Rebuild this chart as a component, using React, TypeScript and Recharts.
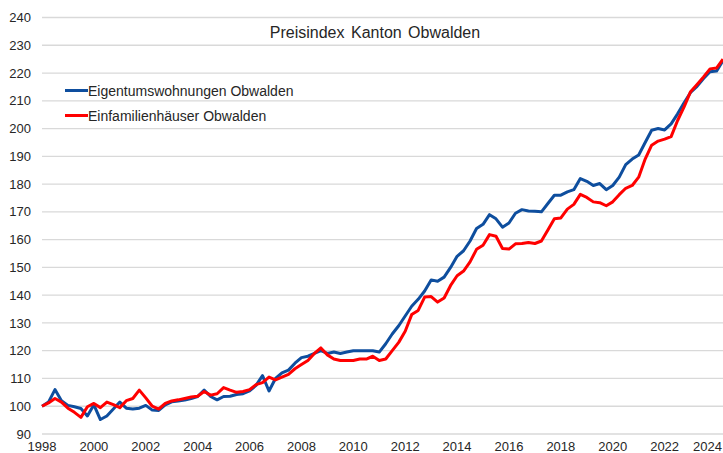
import React from "react";
import { CartesianGrid, Legend, Line, LineChart, XAxis, YAxis } from "recharts";

// Quartalswerte ab 1998 Q1 (Index 1998 Q1 = 100)
const START_YEAR = 1998;

const eigentumswohnungen = [
  100, 101.5, 106, 102,
  100.3, 99.8, 99.2, 96.5,
  100.5, 95.2, 96.5, 99,
  101.5, 99.3, 99, 99.3,
  100.3, 98.6, 98.5, 100.5,
  101.6, 101.9, 102.2, 102.8,
  103.5, 105.8, 103.5, 102.3,
  103.5, 103.6, 104.2, 104.5,
  105.5, 107.5, 111, 105.5,
  110, 112, 113, 115.5,
  117.5, 118, 119, 120,
  119, 119.5, 119, 119.5,
  120, 120, 120, 120,
  119.5, 122.5, 126, 129,
  132.5, 136, 138.5, 141.5,
  145.5, 145, 146.5, 150,
  154, 156, 159.5, 164,
  165.5, 169, 167.5, 164.5,
  166, 169.5, 170.8, 170.3,
  170.2, 170, 173, 176,
  176, 177.2, 178, 182,
  181, 179.5, 180.2, 178,
  179.5, 182.5, 187, 189,
  190.5, 195, 199.4, 200,
  199.5, 201.7, 205.3, 209.3,
  213, 215.2, 218, 220.5,
  220.7, 224.5,
];

const einfamilienhaeuser = [
  100, 101.2, 102.8, 101.5,
  99.3, 97.8, 96, 99.8,
  101, 99.5, 101.5, 100.6,
  99.5, 102, 102.8, 105.8,
  103, 100, 99, 101,
  101.9, 102.3, 102.8, 103.3,
  103.6, 105.3, 104, 104.5,
  106.7, 105.8, 105, 105.3,
  106, 107.8, 108.5, 110.5,
  109.5, 110.5, 111.5, 113.5,
  115, 116.5, 119, 121,
  118.5, 117, 116.5, 116.5,
  116.5, 117, 117, 118,
  116.5, 117, 120, 123,
  127, 133, 134.5, 139.3,
  139.5, 137.5, 139, 143.5,
  147, 148.7, 152, 156.5,
  158, 161.8, 161.2, 156.8,
  156.6, 158.5, 158.6, 159,
  158.6, 159.5, 163.5, 167.5,
  167.8, 171, 172.7, 176.3,
  175.2, 173.6, 173.3, 172.2,
  173.6, 176.2, 178.5, 179.5,
  182.5, 189, 194, 195.5,
  196.2, 197.1, 202.9, 207.8,
  213.3, 215.9, 218.6, 221.5,
  221.8, 225,
];

const yearTicks = [1998, 2000, 2002, 2004, 2006, 2008, 2010, 2012, 2014, 2016, 2018, 2020, 2022, 2024];
const yTicks = [90, 100, 110, 120, 130, 140, 150, 160, 170, 180, 190, 200, 210, 220, 230, 240];

const BLAU = "#0E4E9E";
const ROT = "#FF0000";
const FONT = "'Liberation Sans', Arial, sans-serif";

const serien = [
  { key: "eigentum", label: "Eigentumswohnungen Obwalden", farbe: BLAU },
  { key: "efh", label: "Einfamilienhäuser Obwalden", farbe: ROT },
];

const daten = eigentumswohnungen.map((v, i) => ({
  t: START_YEAR + i / 4,
  eigentum: v,
  efh: einfamilienhaeuser[i],
}));

const lastTick = yearTicks[yearTicks.length - 1];

function JahrTick(props: any) {
  const { x, y, payload } = props;
  const letzter = payload.value === lastTick;
  return (
    <text
      x={letzter ? 722 : x}
      y={y}
      dy="0.71em"
      textAnchor={letzter ? "end" : "middle"}
      fill="#262626"
      fontSize={13}
      fontFamily={FONT}
    >
      {payload.value}
    </text>
  );
}

function Legende() {
  return (
    <div style={{ fontFamily: FONT, fontSize: 14, color: "#262626" }}>
      {serien.map((s) => (
        <div key={s.key} style={{ display: "flex", alignItems: "center", height: 25 }}>
          <span style={{ display: "inline-block", width: 23, height: 3, background: s.farbe }} />
          <span>{s.label}</span>
        </div>
      ))}
    </div>
  );
}

export default function App() {
  return (
    <div
      style={{
        position: "absolute",
        left: 0,
        top: 0,
        width: 723,
        height: 453,
        overflow: "hidden",
        background: "#fff",
      }}
    >
      <div
        style={{
          position: "absolute",
          left: 0,
          top: 24,
          width: 750,
          textAlign: "center",
          fontFamily: FONT,
          fontSize: 16,
          lineHeight: "18px",
          color: "#262626",
          wordSpacing: 2,
          zIndex: 2,
        }}
      >
        Preisindex Kanton Obwalden
      </div>
      <LineChart
        width={723}
        height={453}
        data={daten}
        margin={{ top: 17.5, right: 0, bottom: 0, left: 0 }}
      >
        <CartesianGrid vertical={false} stroke="#d9d9d9" strokeWidth={1.3} />
        <XAxis
          dataKey="t"
          type="number"
          domain={[START_YEAR, START_YEAR + (eigentumswohnungen.length - 1) / 4]}
          ticks={yearTicks}
          axisLine={false}
          tickLine={false}
          tickSize={0}
          tickMargin={8}
          height={19}
          interval={0}
          tick={<JahrTick />}
        />
        <YAxis
          type="number"
          domain={[90, 240]}
          ticks={yTicks}
          axisLine={false}
          tickLine={false}
          tickSize={0}
          tickMargin={11}
          width={42}
          interval={0}
          tick={{ fill: "#262626", fontSize: 13, fontFamily: FONT }}
        />
        <Legend
          layout="vertical"
          align="center"
          verticalAlign="middle"
          content={<Legende />}
          wrapperStyle={{ left: 65, top: 78, width: "auto", height: "auto" }}
        />
        {serien.map((s) => (
          <Line
            key={s.key}
            type="linear"
            dataKey={s.key}
            stroke={s.farbe}
            strokeWidth={3}
            dot={false}
            strokeLinejoin="round"
            isAnimationActive={false}
          />
        ))}
      </LineChart>
    </div>
  );
}
